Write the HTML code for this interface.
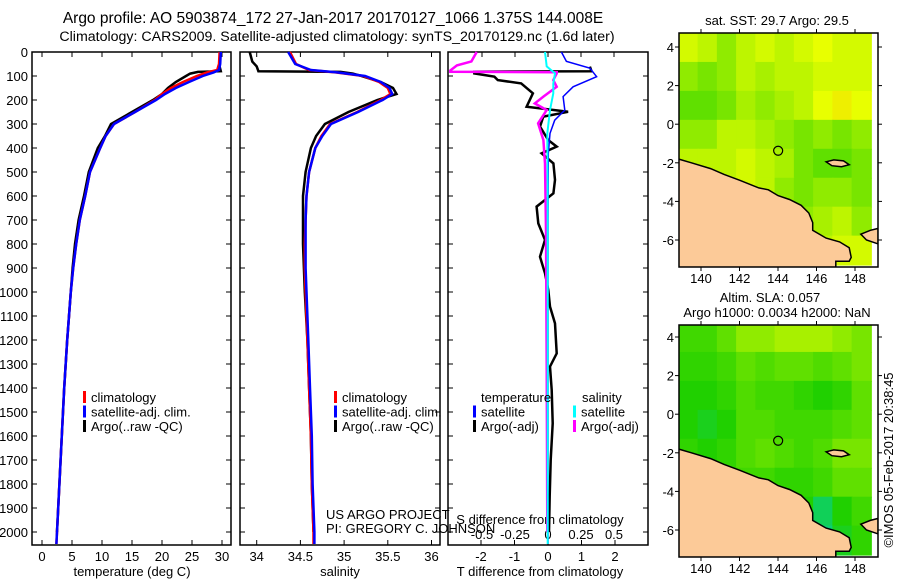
<!DOCTYPE html>
<html><head><meta charset="utf-8">
<style>
html,body{margin:0;padding:0;background:#fff;}
svg{display:block;font-family:"Liberation Sans",sans-serif;}
</style></head>
<body>
<svg id="fig" width="900" height="580" viewBox="0 0 900 580" xmlns="http://www.w3.org/2000/svg">
<text x="333" y="23" font-size="15.5" text-anchor="middle">Argo profile: AO 5903874_172 27-Jan-2017 20170127_1066 1.375S 144.008E</text>
<text x="337" y="41" font-size="14.2" text-anchor="middle">Climatology: CARS2009. Satellite-adjusted climatology: synTS_20170129.nc (1.6d later)</text>
<g id="g"></g>
</svg>
<script>
// ---------- DATA ----------
const depthTicks=[0,100,200,300,400,500,600,700,800,900,1000,1100,1200,1300,1400,1500,1600,1700,1800,1900,2000];
const tempTicks=[0,5,10,15,20,25,30];
const salTicks=[34,34.5,35,35.5,36];
const salTickLabels=["34","34.5","35","35.5","36"];
const tdTicks=[-2,-1,0,1,2];
const sdTicks=[-0.5,-0.25,0,0.25,0.5];
const sdTickLabels=["-0.5","-0.25","0","0.25","0.5"];

const climDepth=[0,50,75,85,100,125,150,175,200,250,300,350,400,500,600,700,800,900,1000,1200,1400,1600,1800,2000,2050];
const climT=[29.6,29.5,29.2,27.5,25.8,23.5,21.5,20,18.8,15.5,12,10.6,9.7,8,7.2,6.3,5.7,5.2,4.8,4.2,3.7,3.3,2.9,2.5,2.4];
const satT=[29.8,29.7,29.5,28.6,26.8,24.5,22.3,20.5,19,15.5,12,10.6,9.7,8,7.2,6.3,5.7,5.2,4.8,4.2,3.7,3.3,2.9,2.5,2.4];
const climS=[34.38,34.45,34.6,34.9,35.22,35.4,35.5,35.53,35.42,35.15,34.84,34.74,34.67,34.6,34.57,34.56,34.55,34.55,34.56,34.58,34.6,34.62,34.63,34.65,34.65];
const satS=[34.36,34.44,34.62,34.92,35.24,35.42,35.52,35.55,35.44,35.16,34.85,34.75,34.67,34.6,34.57,34.56,34.56,34.56,34.57,34.59,34.61,34.63,34.64,34.66,34.66];

const argoDepth=[0,40,60,80,83,90,100,125,150,175,200,250,300,350,400,500,600,700,800,900,1000,1200,1400,1600,1800,2000];
const argoT=[29.7,29.6,29.6,29.8,26,24.7,24,22.3,21,20,18.5,15,11.5,10.5,9.3,7.8,7,6.1,5.5,5.1,4.8,4.2,3.7,3.3,2.9,2.5];
const argoS=[33.92,33.95,34.0,34.02,34.96,35.1,35.2,35.42,35.56,35.6,35.38,35.05,34.78,34.68,34.62,34.56,34.53,34.53,34.53,34.54,34.55,34.58,34.6,34.62,34.63,34.65];

const tdArgoDepth=[61,80,82,89,103,117,131,172,228,249,269,311,367,394,422,464,533,589,644,714,783,853,922,992,1061,1131,1256,1311,1408,1547,1700,1850,2000];
const tdArgo=[1.25,1.3,-2.2,-2.2,-1.6,-1.5,-0.8,-0.45,-0.64,0.6,-0.14,-0.24,0.01,0.26,-0.19,0.16,0.21,0.16,-0.34,-0.29,-0.09,-0.24,-0.09,0.01,0.06,0.21,0.26,0.06,0.11,0.14,0.08,0.05,0.03];
const tdSatDepth=[0,39,67,103,145,186,242,284,339,422,700,1200,2050];
const tdSat=[0.4,0.55,1.25,1.45,0.75,0.45,0.5,0.2,0.06,0.01,0.0,0.0,0.0];
const sdSatDepth=[0,60,89,131,172,242,339,550,1000,2050];
const sdSat=[-0.023,-0.01,0.053,0.04,0.04,0.015,-0.005,-0.003,-0.002,-0.002];
const sdArgoDepth=[0,39,56,77,82,84,89,117,145,186,214,242,297,367,464,741,1300,2000];
const sdArgo=[-0.54,-0.58,-0.69,-0.74,-0.74,0.066,0.066,0.04,0.066,-0.035,-0.1,-0.01,-0.075,-0.035,-0.023,-0.015,-0.01,-0.005];

const mapLons=[139,140,141,142,143,144,145,146,147,148];
const mapLats=[4.7,3.2,1.7,0.2,-1.3,-2.8,-4.3,-5.8];
const sstGrid=[
[0.75,0.7,0.6,0.7,0.75,0.7,0.75,0.8,0.75,0.75],
[0.6,0.55,0.6,0.7,0.65,0.7,0.7,0.75,0.75,0.75],
[0.5,0.5,0.55,0.65,0.6,0.65,0.7,0.8,0.85,0.8],
[0.6,0.6,0.7,0.7,0.65,0.6,0.55,0.6,0.55,0.6],
[0.7,0.7,0.7,0.75,0.7,0.65,0.55,0.5,0.5,0.55],
[0.7,0.75,0.8,0.75,0.7,0.6,0.55,0.6,0.6,0.55],
[0.7,0.7,0.7,0.7,0.65,0.6,0.6,0.65,0.7,0.6],
[0.7,0.7,0.7,0.7,0.7,0.7,0.75,0.7,0.75,0.75]];
const slaGrid=[
[0.4,0.4,0.5,0.6,0.6,0.65,0.65,0.65,0.6,0.55],
[0.35,0.35,0.4,0.5,0.45,0.5,0.5,0.45,0.5,0.55],
[0.3,0.3,0.35,0.45,0.4,0.4,0.35,0.3,0.35,0.5],
[0.3,0.25,0.3,0.45,0.45,0.4,0.4,0.4,0.45,0.5],
[0.35,0.3,0.35,0.45,0.5,0.45,0.4,0.45,0.55,0.55],
[0.4,0.4,0.4,0.4,0.4,0.35,0.35,0.4,0.5,0.5],
[0.4,0.4,0.4,0.4,0.35,0.3,0.3,0.15,0.3,0.4],
[0.4,0.4,0.4,0.4,0.35,0.3,0.2,0.1,0.25,0.35]];
const lonTicks=[140,142,144,146,148];
const latTicks=[4,2,0,-2,-4,-6];
const coastLon=[138.8,139.5,140.5,141.2,142,143,143.5,144,144.6,145.2,145.6,145.8,145.8,146.5,147.2,147.7,147.8,147.7,147.0,147.0,138.8];
const coastLat=[-1.8,-2.0,-2.3,-2.6,-2.9,-3.3,-3.4,-3.7,-3.9,-4.2,-4.6,-5.1,-5.5,-5.9,-6.1,-6.4,-6.9,-7.1,-7.1,-7.5,-7.5];
const nbLon=[148.3,148.8,149.2,149.2,148.6];
const nbLat=[-5.7,-5.5,-5.4,-6.2,-6.0];
const manusLon=[146.5,146.9,147.4,147.7,147.3,146.8];
const manusLat=[-1.95,-1.85,-1.9,-2.1,-2.2,-2.15];
const argoLon=144.008, argoLat=-1.375;

// ---------- HELPERS ----------
const NS="http://www.w3.org/2000/svg";
const G=document.getElementById('g');
function mk(tag,attrs){const e=document.createElementNS(NS,tag);for(const k in attrs)e.setAttribute(k,attrs[k]);G.appendChild(e);return e;}
function txt(x,y,s,size,anchor){const e=mk('text',{x:x,y:y,'font-size':size,'text-anchor':anchor||'middle'});e.textContent=s;return e;}

const yD=d=>52+d*0.24;
const xT=t=>42+t*6;
const xS=s=>256.7+(s-34)*87.4;
const xTD=t=>548+t*33.5;
const xSD=s=>548+s*132;

function line(xs,ys,xf,yf,color,w){
  const pts=xs.map((v,i)=>xf(v).toFixed(1)+','+yf(ys[i]).toFixed(1)).join(' ');
  return mk('polyline',{points:pts,fill:'none',stroke:color,'stroke-width':w,'stroke-linejoin':'miter'});
}

// ---------- PANELS ----------
const panels=[[32,231],[240,440],[448,648]];
panels.forEach((p,i)=>{
  const r=mk('rect',{x:p[0],y:52,width:p[1]-p[0],height:493,fill:'none',stroke:'#000','stroke-width':1.5});
  
  
  depthTicks.forEach(d=>{
    const t1=mk('line',{x1:p[0],x2:p[0]+5,y1:yD(d),y2:yD(d),stroke:'#000'});
    
    
    const t2=mk('line',{x1:p[1]-5,x2:p[1],y1:yD(d),y2:yD(d),stroke:'#000'});
    
    
  });
});
depthTicks.forEach(d=>{
  const t=txt(28,yD(d)+5,String(d),13,'end');
  
  
});
tempTicks.forEach(v=>{
  const a=mk('line',{x1:xT(v),x2:xT(v),y1:545,y2:540,stroke:'#000'});
  
  
  const b=mk('line',{x1:xT(v),x2:xT(v),y1:52,y2:57,stroke:'#000'});
  
  
  const t=txt(xT(v),561,String(v),13);
  
  
});
salTicks.forEach((v,i)=>{
  const a=mk('line',{x1:xS(v),x2:xS(v),y1:545,y2:540,stroke:'#000'});
  
  
  const b=mk('line',{x1:xS(v),x2:xS(v),y1:52,y2:57,stroke:'#000'});
  
  
  const t=txt(xS(v),561,salTickLabels[i],13);
  
  
});
tdTicks.forEach(v=>{
  const a=mk('line',{x1:xTD(v),x2:xTD(v),y1:545,y2:540,stroke:'#000'});
  
  
  const t=txt(xTD(v),561,String(v),13);
  
  
});
sdTicks.forEach((v,i)=>{
  const a=mk('line',{x1:xSD(v),x2:xSD(v),y1:52,y2:57,stroke:'#000'});
  
  
  const t=txt(xSD(v),539,sdTickLabels[i],13);
  
  
});
let e;
e=txt(132,576,'temperature (deg C)',13);  
e=txt(340,576,'salinity',13);  
e=txt(540,576,'T difference from climatology',13);  
e=txt(540,524,'S difference from climatology',13);  
e=txt(326,519,'US ARGO PROJECT',13,'start');  
e=txt(326,533,'PI: GREGORY C. JOHNSON',13,'start');  

// ---------- SERIES ----------
e=line(argoT,argoDepth,xT,yD,'#000',2.5);  
e=line(climT,climDepth,xT,yD,'#f00',2.5);  
e=line(satT,climDepth,xT,yD,'#00f',2.5);  
e=line(argoS,argoDepth,xS,yD,'#000',2.5);  
e=line(climS,climDepth,xS,yD,'#f00',2.5);  
e=line(satS,climDepth,xS,yD,'#00f',2.5);  
e=line(tdArgo,tdArgoDepth,xTD,yD,'#000',2.5);  
e=line(tdSat,tdSatDepth,xTD,yD,'#00f',1.5);  
e=line(sdArgo,sdArgoDepth,xSD,yD,'#f0f',2.5);  
e=line(sdSat,sdSatDepth,xSD,yD,'#0ff',2);  

// ---------- LEGENDS ----------
function leg(x,y,color,label){
  const m=mk('rect',{x:x,y:y-11,width:3,height:12,fill:color});
  
  
  const t=txt(x+8,y,label,13,'start');
  
  
}
[[83,'#f00','climatology'],[83,'#00f','satellite-adj. clim.'],[83,'#000','Argo(..raw -QC)']].forEach((l,i)=>leg(l[0],402+i*14.5,l[1],l[2]));
[[334,'#f00','climatology'],[334,'#00f','satellite-adj. clim.'],[334,'#000','Argo(..raw -QC)']].forEach((l,i)=>leg(l[0],402+i*14.5,l[1],l[2]));
e=txt(481,402,'temperature',13,'start');  
e=txt(582,402,'salinity',13,'start');  
leg(473,416.5,'#00f','satellite'); leg(473,431,'#000','Argo(-adj)');
leg(573,416.5,'#0ff','satellite'); leg(573,431,'#f0f','Argo(-adj)');

// ---------- MAPS ----------
function cmap(v){
  const stops=[[0,[0,208,176]],[0.3,[32,208,0]],[0.5,[96,224,0]],[0.65,[168,240,0]],[0.8,[232,255,0]],[1,[255,192,0]]];
  for(let i=1;i<stops.length;i++){if(v<=stops[i][0]){const a=stops[i-1],b=stops[i],f=(v-a[0])/(b[0]-a[0]);
    return 'rgb('+a[1].map((c,j)=>Math.round(c+(b[1][j]-c)*f)).join(',')+')';}}
  return 'rgb(255,192,0)';
}
function drawMap(top,bottom,lat4y,grid,name){
  const L=679,R=878;
  const px=lon=>701+(lon-140)*19.25;
  const py=lat=>lat4y+(4-lat)*19.3;
  const clip=mk('clipPath',{id:'clip-'+name});
  const cr=document.createElementNS(NS,'rect');cr.setAttribute('x',L);cr.setAttribute('y',top);cr.setAttribute('width',R-L);cr.setAttribute('height',bottom-top);clip.appendChild(cr);
  const grp=mk('g',{'clip-path':'url(#clip-'+name+')'});
  
  
  grid.forEach((row,ri)=>row.forEach((v,ci)=>{
    const lon=mapLons[ci]-0.15, lat=mapLats[ri];
    const c=document.createElementNS(NS,'rect');
    c.setAttribute('x',px(lon)-0.5);c.setAttribute('y',py(lat)-0.5);
    c.setAttribute('width',19.25+1);c.setAttribute('height',1.5*19.3+1);
    c.setAttribute('fill',cmap(v));
    
    
    grp.appendChild(c);
  }));
  function poly(lons,lats,nm){
    const p=document.createElementNS(NS,'polygon');
    p.setAttribute('points',lons.map((v,i)=>px(v).toFixed(1)+','+py(lats[i]).toFixed(1)).join(' '));
    p.setAttribute('fill','#fcca98');p.setAttribute('stroke','#000');p.setAttribute('stroke-width','1.5');
    
    
    grp.appendChild(p);
  }
  poly(coastLon,coastLat,'land-new-guinea');
  poly(nbLon,nbLat,'land-new-britain');
  poly(manusLon,manusLat,'land-island');
  const c=document.createElementNS(NS,'circle');
  c.setAttribute('cx',px(argoLon));c.setAttribute('cy',py(argoLat));c.setAttribute('r',4.5);
  c.setAttribute('fill','none');c.setAttribute('stroke','#000');c.setAttribute('stroke-width','1.2');
  
  
  grp.appendChild(c);
  const fr=mk('rect',{x:L,y:top,width:R-L,height:bottom-top,fill:'none',stroke:'#000','stroke-width':1.5});
  
  
  lonTicks.forEach(v=>{
    const a=mk('line',{x1:px(v),x2:px(v),y1:top,y2:top-4,stroke:'#000'});
    
    
    const b=mk('line',{x1:px(v),x2:px(v),y1:bottom,y2:bottom+4,stroke:'#000'});
    
    
    const t=txt(px(v),bottom+16,String(v),13);
    
    
  });
  latTicks.forEach(v=>{
    const a=mk('line',{x1:L,x2:L-4,y1:py(v),y2:py(v),stroke:'#000'});
    
    
    const b=mk('line',{x1:R,x2:R+4,y1:py(v),y2:py(v),stroke:'#000'});
    
    
    const t=txt(674,py(v)+5,String(v),13,'end');
    
    
  });
}
drawMap(33,267,47,sstGrid,'sst');
drawMap(325,557,337,slaGrid,'sla');
e=txt(777,25,'sat. SST: 29.7 Argo: 29.5',13);  
e=txt(770,302,'Altim. SLA: 0.057',13);  
e=txt(777,317,'Argo h1000: 0.0034 h2000: NaN',13);  
e=txt(0,0,'©IMOS 05-Feb-2017 20:38:45',13); e.setAttribute('transform','translate(893,460) rotate(-90)');


</script>
</body></html>
